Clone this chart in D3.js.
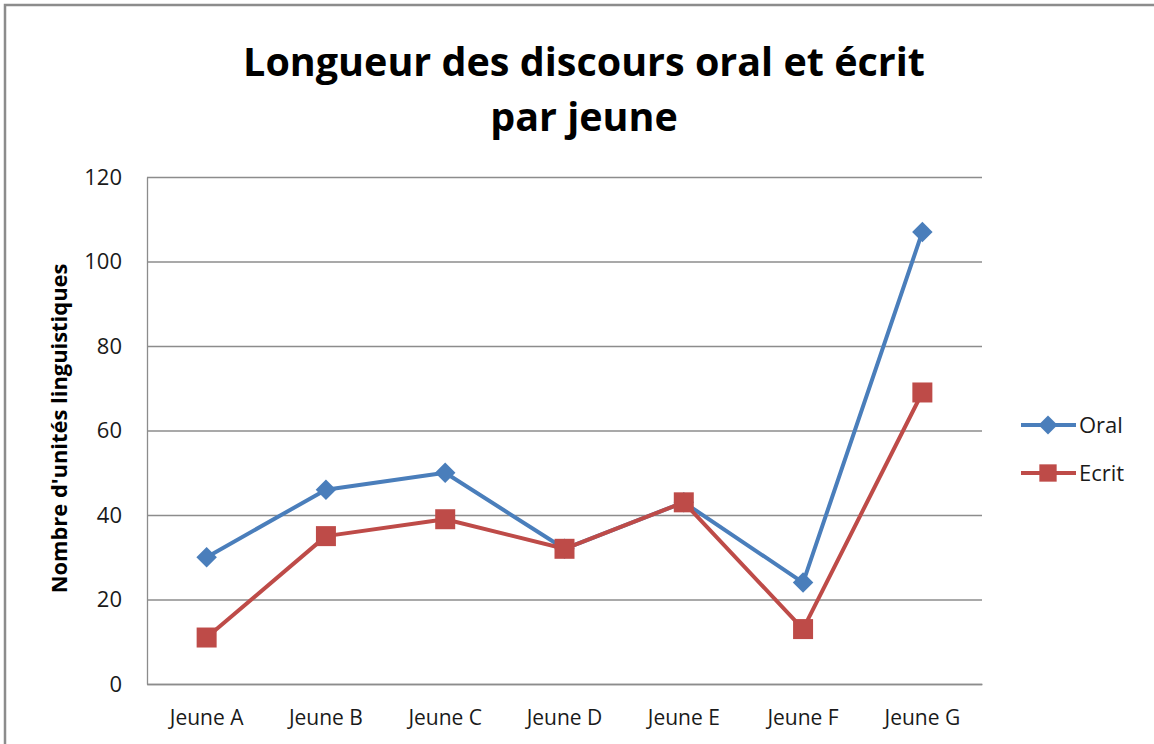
<!DOCTYPE html>
<html>
<head>
<meta charset="utf-8">
<script src="https://cdn.jsdelivr.net/npm/d3@7"></script>
<style>
  body { margin: 0; background: #fff; }
  svg { display: block; font-family: "Open Sans", "Liberation Sans", sans-serif; }
</style>
</head>
<body>
<svg id="chart" width="1154" height="744"></svg>
<script>
// data
var categories = ["Jeune A", "Jeune B", "Jeune C", "Jeune D", "Jeune E", "Jeune F", "Jeune G"];
var oral = [30, 46, 50, 32, 43, 24, 107];
var ecrit = [11, 35, 39, 32, 43, 13, 69];
var yTicks = [0, 20, 40, 60, 80, 100, 120];
var seriesNames = ["Oral", "Ecrit"];

var W = 1154, H = 744;
// plot box (note: "top" is reserved on window, so use a prefix)
var pLeft = 147, pRight = 982, pTop = 177, pBottom = 684;
var blue = "#4a7ebb", red = "#be4b48", gridCol = "#8c8c8c";

var svg = d3.select("#chart");

// outer chart frame
svg.append("rect")
  .attr("x", 5).attr("y", 5)
  .attr("width", W + 10).attr("height", H + 10)
  .attr("fill", "none").attr("stroke", gridCol).attr("stroke-width", 2.5);

var x = d3.scaleBand().domain(categories).range([pLeft, pRight]);
var y = d3.scaleLinear().domain([0, 120]).range([pBottom, pTop]);

// gridlines
svg.append("g")
  .attr("transform", "translate(" + pLeft + ",0)")
  .call(d3.axisLeft(y).tickValues(yTicks).tickSize(-(pRight - pLeft)).tickFormat(""))
  .call(function (g) {
    g.select(".domain").remove();
    g.selectAll("line").attr("stroke", gridCol).attr("stroke-width", 1.3);
  });

// y axis
svg.append("g")
  .attr("transform", "translate(" + pLeft + ",0)")
  .call(d3.axisLeft(y).tickValues(yTicks).tickSize(0).tickPadding(25))
  .call(function (g) {
    g.select(".domain").attr("stroke", gridCol).attr("stroke-width", 1.3);
    g.selectAll("text").attr("font-size", 22).attr("fill", "#1a1a1a")
      .attr("font-family", "'Open Sans', sans-serif");
  });

// x axis
svg.append("g")
  .attr("transform", "translate(0," + pBottom + ")")
  .call(d3.axisBottom(x).tickSize(0).tickPadding(26))
  .call(function (g) {
    g.select(".domain").attr("stroke", gridCol).attr("stroke-width", 1.3);
    g.selectAll("text").attr("font-size", 21).attr("fill", "#1a1a1a")
      .attr("font-family", "'Open Sans', sans-serif");
  });

// y axis title
var yt = svg.append("text")
  .attr("transform", "translate(67," + ((pTop + pBottom) / 2 - 2) + ") rotate(-90)")
  .attr("text-anchor", "middle")
  .attr("font-size", 20).attr("font-weight", "bold").attr("fill", "#000")
  .text("Nombre d'unités linguistiques");
yt.attr("font-size", 20 * 330 / yt.node().getComputedTextLength());

// title
var t1 = svg.append("text")
  .attr("x", 584).attr("y", 76)
  .attr("text-anchor", "middle")
  .attr("font-size", 40).attr("font-weight", "bold").attr("fill", "#000")
  .text("Longueur des discours oral et écrit");
var t2 = svg.append("text")
  .attr("x", 584).attr("y", 131)
  .attr("text-anchor", "middle")
  .attr("font-size", 40).attr("font-weight", "bold").attr("fill", "#000")
  .text("par jeune");
var fit = 682 / t1.node().getComputedTextLength();
t1.attr("font-size", 40 * fit);
t2.attr("font-size", 40 * fit);

var cx = function (d, i) { return x(categories[i]) + x.bandwidth() / 2; };
var line = d3.line().x(cx).y(function (d) { return y(d); });

function drawSeries(vals, color, size, rot) {
  svg.append("path")
    .datum(vals)
    .attr("d", line)
    .attr("fill", "none").attr("stroke", color).attr("stroke-width", 4)
    .attr("stroke-linejoin", "round");
  svg.selectAll(null)
    .data(vals)
    .enter().append("path")
    .attr("d", d3.symbol().type(d3.symbolSquare).size(size))
    .attr("transform", function (d, i) {
      return "translate(" + cx(d, i) + "," + y(d) + ") rotate(" + rot + ")";
    })
    .attr("fill", color);
}

drawSeries(oral, blue, 210, 45);
drawSeries(ecrit, red, 400, 0);

// legend
var legend = svg.append("g");
var legendItems = [
  { name: seriesNames[0], color: blue, size: 180, rot: 45, y: 425 },
  { name: seriesNames[1], color: red, size: 300, rot: 0, y: 473 }
];
legendItems.forEach(function (it) {
  legend.append("line")
    .attr("x1", 1021).attr("x2", 1076)
    .attr("y1", it.y).attr("y2", it.y)
    .attr("stroke", it.color).attr("stroke-width", 4);
  legend.append("path")
    .attr("d", d3.symbol().type(d3.symbolSquare).size(it.size))
    .attr("transform", "translate(1048," + it.y + ") rotate(" + it.rot + ")")
    .attr("fill", it.color);
  legend.append("text")
    .attr("x", 1079).attr("y", it.y + 8)
    .attr("font-size", 22).attr("fill", "#1a1a1a")
    .text(it.name);
});
</script>
</body>
</html>
